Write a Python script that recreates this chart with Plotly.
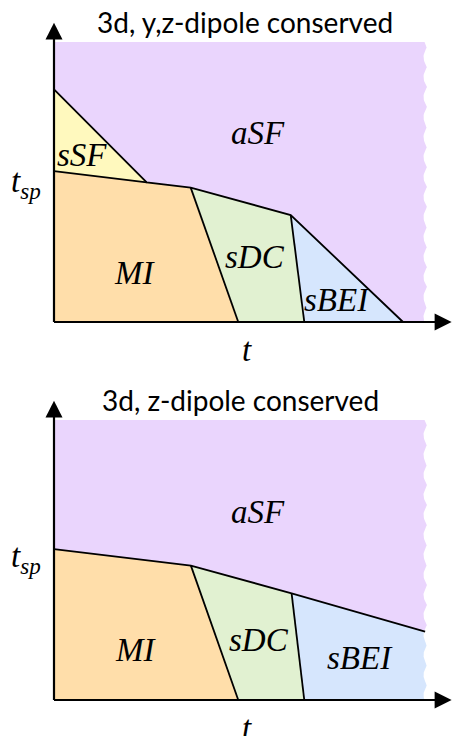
import numpy as np
import plotly.graph_objects as go

# ---------------- data (arbitrary units: t horizontal, t_sp vertical) ----------------
T_MAX = 10.0      # right edge of the (torn) diagram
TSP_MAX = 10.0    # top edge of the diagram

# Top panel: 3d, y,z-dipole conserved
top_title = "3d, y,z-dipole conserved"
top_sSF_top = 8.31          # sSF meets t_sp axis (upper)
top_MI_left = 5.39          # MI meets t_sp axis
top_triple_t, top_triple_tsp = 2.485, 4.99   # sSF/MI/aSF point
top_mid_t = [3.665, 6.346]  # MI|sDC and sDC|sBEI tops along aSF boundary
top_mid_tsp = [4.80, 3.82]
top_bottom_t = [4.94, 6.71] # MI|sDC and sDC|sBEI on t axis
top_sBEI_end = 9.357        # sBEI/aSF boundary hits t axis

# Bottom panel: 3d, z-dipole conserved
bot_title = "3d, z-dipole conserved"
bot_MI_left = 5.39
bot_mid_t = [3.67, 6.37]
bot_mid_tsp = [4.80, 3.81]
bot_bottom_t = [4.94, 6.71]
bot_end_t, bot_end_tsp = 9.95, 2.44

phase_labels = ["aSF", "sSF", "MI", "sDC", "sBEI"]
top_label_t = [5.47, 0.75, 2.17, 5.39, 7.60]
top_label_tsp = [6.75, 5.96, 1.75, 2.32, 0.79]
bot_labels = ["aSF", "MI", "sDC", "sBEI"]
bot_label_t = [5.47, 2.18, 5.50, 8.20]
bot_label_tsp = [6.73, 1.79, 2.14, 1.50]

COL = {"aSF": "#EAD5FD", "sSF": "#FFF9BE", "MI": "#FFDEAA",
       "sDC": "#E1F1D1", "sBEI": "#D6E6FD"}

# ---------------- helpers ----------------
PX_X = 37.3   # pixels per unit t
PX_Y = 28.0   # pixels per unit t_sp


def wavy_edge(y_from, y_to):
    """torn right edge, scalloped, going from y_from down to y_to"""
    period = 20.0 / PX_Y
    amp = 3.5 / PX_X
    first = TSP_MAX - 5.0 / PX_Y
    ys, xs = [], []
    for y in np.linspace(y_from, y_to, 200):
        u = ((first - y) / period) % 1.0
        ys.append(y)
        xs.append(T_MAX - amp * np.sin(np.pi * u))
    return xs, ys


fig = go.Figure()


def poly(xs, ys, color, xa, ya):
    fig.add_trace(go.Scatter(x=list(xs) + [xs[0]], y=list(ys) + [ys[0]], mode="lines",
                             fill="toself", fillcolor=color, line=dict(width=0),
                             hoverinfo="skip", showlegend=False, xaxis=xa, yaxis=ya))


def line(xs, ys, xa, ya, w=1.8):
    fig.add_trace(go.Scatter(x=xs, y=ys, mode="lines", line=dict(color="black", width=w),
                             hoverinfo="skip", showlegend=False, xaxis=xa, yaxis=ya))


def axes_arrows(xa, ya):
    x_tip = 10.66
    y_tip = 10.69
    x_len = 17.0 / PX_X
    y_len = 16.7 / PX_Y
    hw_x = 8.5 / PX_Y   # half-height of t-axis arrow head (in t_sp units)
    hw_y = 8.5 / PX_X   # half-width of t_sp-axis arrow head (in t units)
    line([0, x_tip - x_len + 0.05], [0, 0], xa, ya, w=2.2)
    line([0, 0], [0, y_tip - y_len + 0.05], xa, ya, w=2.2)
    poly([x_tip - x_len, x_tip, x_tip - x_len], [hw_x, 0, -hw_x], "black", xa, ya)
    poly([-hw_y, 0, hw_y], [y_tip - y_len, y_tip, y_tip - y_len], "black", xa, ya)


# ---------------- top panel ----------------
xa, ya = "x", "y"
wx, wy = wavy_edge(TSP_MAX, 0.0)
poly([0, ] + wx + [top_sBEI_end, top_mid_t[1], top_mid_t[0], top_triple_t, 0],
     [TSP_MAX] + wy + [0, top_mid_tsp[1], top_mid_tsp[0], top_triple_tsp, top_sSF_top],
     COL["aSF"], xa, ya)
poly([0, top_triple_t, 0], [top_sSF_top, top_triple_tsp, top_MI_left], COL["sSF"], xa, ya)
poly([0, top_triple_t, top_mid_t[0], top_bottom_t[0], 0],
     [top_MI_left, top_triple_tsp, top_mid_tsp[0], 0, 0], COL["MI"], xa, ya)
poly([top_mid_t[0], top_mid_t[1], top_bottom_t[1], top_bottom_t[0]],
     [top_mid_tsp[0], top_mid_tsp[1], 0, 0], COL["sDC"], xa, ya)
poly([top_mid_t[1], top_sBEI_end, top_bottom_t[1]],
     [top_mid_tsp[1], 0, 0], COL["sBEI"], xa, ya)

line([0, top_triple_t, top_mid_t[0], top_mid_t[1], top_sBEI_end],
     [top_sSF_top, top_triple_tsp, top_mid_tsp[0], top_mid_tsp[1], 0], xa, ya)
line([0, top_triple_t], [top_MI_left, top_triple_tsp], xa, ya)
line([top_mid_t[0], top_bottom_t[0]], [top_mid_tsp[0], 0], xa, ya)
line([top_mid_t[1], top_bottom_t[1]], [top_mid_tsp[1], 0], xa, ya)
axes_arrows(xa, ya)

# ---------------- bottom panel ----------------
xa, ya = "x2", "y2"
wx, wy = wavy_edge(TSP_MAX, bot_end_tsp)
poly([0] + wx + [bot_end_t, bot_mid_t[1], bot_mid_t[0], 0],
     [TSP_MAX] + wy + [bot_end_tsp, bot_mid_tsp[1], bot_mid_tsp[0], bot_MI_left],
     COL["aSF"], xa, ya)
poly([0, bot_mid_t[0], bot_bottom_t[0], 0], [bot_MI_left, bot_mid_tsp[0], 0, 0],
     COL["MI"], xa, ya)
poly([bot_mid_t[0], bot_mid_t[1], bot_bottom_t[1], bot_bottom_t[0]],
     [bot_mid_tsp[0], bot_mid_tsp[1], 0, 0], COL["sDC"], xa, ya)
wx2, wy2 = wavy_edge(bot_end_tsp, 0.0)
poly([bot_mid_t[1], bot_end_t] + wx2 + [bot_bottom_t[1]],
     [bot_mid_tsp[1], bot_end_tsp] + wy2 + [0], COL["sBEI"], xa, ya)

line([0, bot_mid_t[0], bot_mid_t[1], bot_end_t],
     [bot_MI_left, bot_mid_tsp[0], bot_mid_tsp[1], bot_end_tsp], xa, ya)
line([bot_mid_t[0], bot_bottom_t[0]], [bot_mid_tsp[0], 0], xa, ya)
line([bot_mid_t[1], bot_bottom_t[1]], [bot_mid_tsp[1], 0], xa, ya)
axes_arrows(xa, ya)

# ---------------- text ----------------
LABEL_FONT = dict(family="Liberation Serif", size=33, color="black")
TITLE_FONT = dict(family="Lato", size=28, color="black", weight=400)
ann = []


def text(x, y, s, xr, yr, font):
    ann.append(dict(x=x, y=y, xref=xr, yref=yr, text=s, showarrow=False,
                    font=font, xanchor="center", yanchor="middle"))


for lab, x, y in zip(phase_labels, top_label_t, top_label_tsp):
    text(x, y, "<i>%s</i>" % lab, "x", "y", LABEL_FONT)
for lab, x, y in zip(bot_labels, bot_label_t, bot_label_tsp):
    text(x, y, "<i>%s</i>" % lab, "x2", "y2", LABEL_FONT)

text(5.12, 10.71, top_title, "x", "y", TITLE_FONT)
text(4.99, 10.71, bot_title, "x2", "y2", TITLE_FONT)
tsp = "<i>t</i><sub><i>sp</i></sub>"
text(-0.75, 4.96, tsp, "x", "y", LABEL_FONT)
text(-0.75, 5.07, tsp, "x2", "y2", LABEL_FONT)
text(5.17, -1.0, "<i>t</i>", "x", "y", LABEL_FONT)
text(5.17, -1.0, "<i>t</i>", "x2", "y2", LABEL_FONT)

hidden = dict(visible=False, showgrid=False, zeroline=False, fixedrange=True)
fig.update_layout(
    width=452, height=736, margin=dict(l=0, r=0, t=0, b=0),
    paper_bgcolor="white", plot_bgcolor="white", showlegend=False,
    xaxis=dict(hidden, domain=[0, 1], range=[-54 / PX_X, 398 / PX_X]),
    yaxis=dict(hidden, domain=[1 - 360 / 736, 1], range=[-38 / PX_Y, 322 / PX_Y]),
    xaxis2=dict(hidden, domain=[0, 1], range=[-54 / PX_X, 398 / PX_X], anchor="y2"),
    yaxis2=dict(hidden, domain=[0, 368 / 736], range=[-36 / PX_Y, 332 / PX_Y], anchor="x2"),
    annotations=ann,
)
fig.write_html("out.html", config={"displayModeBar": False, "staticPlot": True},
               post_script="document.body.style.margin='0';document.body.style.overflow='hidden';")
